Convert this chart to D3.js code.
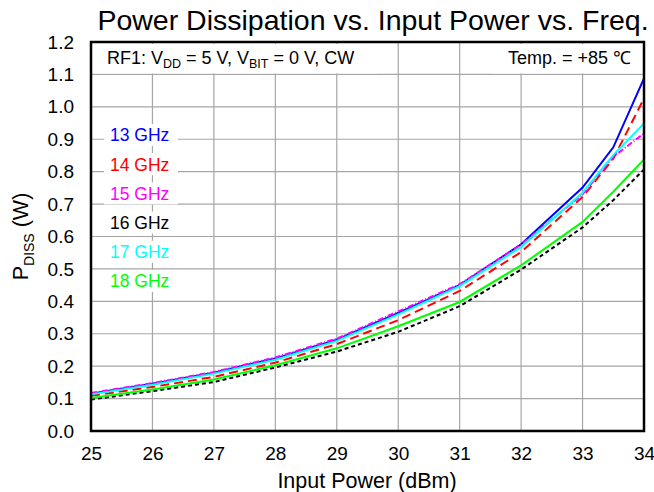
<!DOCTYPE html>
<html>
<head>
<meta charset="utf-8">
<script src="https://cdn.jsdelivr.net/npm/d3@7"></script>
<style>
  body { margin: 0; background: #fff; }
  text { font-family: Arial, "Liberation Sans", sans-serif; }
</style>
</head>
<body>
<div id="container"></div>
<script>
/* CONSTANTS AND GLOBALS */
const width = 654,
  height = 492,
  margin = { top: 42, bottom: 61, left: 91, right: 10 };

// DATA
const inputPower = [25, 26, 27, 28, 29, 30, 31, 32, 33, 33.5, 34];
const freqLabels = ["13 GHz", "14 GHz", "15 GHz", "16 GHz", "17 GHz", "18 GHz"];
const p13 = [0.115, 0.146, 0.180, 0.224, 0.282, 0.364, 0.450, 0.576, 0.751, 0.875, 1.088];
const p14 = [0.109, 0.136, 0.167, 0.211, 0.268, 0.342, 0.432, 0.552, 0.722, 0.840, 1.026];
const p15 = [0.117, 0.148, 0.182, 0.227, 0.285, 0.369, 0.453, 0.575, 0.730, 0.846, 0.918];
const p16 = [0.097, 0.123, 0.151, 0.196, 0.245, 0.306, 0.385, 0.498, 0.628, 0.712, 0.807];
const p17 = [0.113, 0.143, 0.177, 0.220, 0.278, 0.360, 0.447, 0.568, 0.735, 0.851, 0.949];
const p18 = [0.102, 0.128, 0.159, 0.203, 0.255, 0.323, 0.398, 0.511, 0.645, 0.738, 0.838];
const xTicks = [25, 26, 27, 28, 29, 30, 31, 32, 33, 34];
const yTicks = [0, 0.1, 0.2, 0.3, 0.4, 0.5, 0.6, 0.7, 0.8, 0.9, 1.0, 1.1, 1.2];

const series = [
  { name: freqLabels[0], values: p13, color: "#0000ff", dash: null },
  { name: freqLabels[1], values: p14, color: "#ff0000", dash: "9,5" },
  { name: freqLabels[2], values: p15, color: "#ff00ff", dash: "6,2,1,2" },
  { name: freqLabels[3], values: p16, color: "#000000", dash: "4,3" },
  { name: freqLabels[4], values: p17, color: "#00ffff", dash: null },
  { name: freqLabels[5], values: p18, color: "#00ff00", dash: null },
];

const svg = d3.select("#container")
  .append("svg")
  .attr("width", width)
  .attr("height", height);

const x = d3.scaleLinear()
  .domain([25, 34])
  .range([margin.left, width - margin.right]);

const y = d3.scaleLinear()
  .domain([0, 1.2])
  .range([height - margin.bottom, margin.top]);

// GRID
svg.append("g")
  .selectAll("line.vgrid")
  .data(xTicks)
  .join("line")
  .attr("x1", d => x(d)).attr("x2", d => x(d))
  .attr("y1", y(1.2)).attr("y2", y(0))
  .attr("stroke", "#a6a6a6")
  .attr("stroke-width", 1.2);

svg.append("g")
  .selectAll("line.hgrid")
  .data(yTicks)
  .join("line")
  .attr("x1", x(25)).attr("x2", x(34))
  .attr("y1", d => y(d)).attr("y2", d => y(d))
  .attr("stroke", "#a6a6a6")
  .attr("stroke-width", 1.2);

// TICK LABELS
const yAxis = d3.axisLeft(y).tickValues(yTicks).tickFormat(d3.format(".1f")).tickSize(0).tickPadding(17);
svg.append("g")
  .attr("transform", `translate(${x(25)},0)`)
  .call(yAxis)
  .call(g => g.select(".domain").remove())
  .selectAll("text")
  .attr("font-size", 19)
  .attr("fill", "#000");

const xAxis = d3.axisBottom(x).tickValues(xTicks).tickFormat(d3.format("d")).tickSize(0).tickPadding(16);
svg.append("g")
  .attr("transform", `translate(0,${y(0)})`)
  .call(xAxis)
  .call(g => g.select(".domain").remove())
  .selectAll("text")
  .attr("font-size", 19)
  .attr("fill", "#000");

// LINES
const line = d3.line()
  .x((d, i) => x(inputPower[i]))
  .y(d => y(d));

svg.append("g")
  .selectAll("path.series")
  .data(series)
  .join("path")
  .attr("class", "series")
  .attr("d", d => line(d.values))
  .attr("fill", "none")
  .attr("stroke", d => d.color)
  .attr("stroke-width", 2)
  .attr("stroke-dasharray", d => d.dash);

// FRAME
svg.append("rect")
  .attr("x", x(25)).attr("y", y(1.2))
  .attr("width", x(34) - x(25))
  .attr("height", y(0) - y(1.2))
  .attr("fill", "none")
  .attr("stroke", "#000")
  .attr("stroke-width", 2.5);

// ANNOTATION BOXES
const note = svg.append("g");
note.append("rect")
  .attr("x", x(25) + 2).attr("y", y(1.2) + 2)
  .attr("width", 285).attr("height", y(1.1) - y(1.2) - 3)
  .attr("fill", "#fff");
const rf = note.append("text")
  .attr("x", 107).attr("y", 64)
  .attr("font-size", 18);
rf.append("tspan").text("RF1: V");
rf.append("tspan").attr("font-size", 12.5).attr("dy", 4).text("DD");
rf.append("tspan").attr("dy", -4).text(" = 5 V, V");
rf.append("tspan").attr("font-size", 12.5).attr("dy", 4).text("BIT");
rf.append("tspan").attr("dy", -4).text(" = 0 V, CW");

note.append("rect")
  .attr("x", 492).attr("y", y(1.2) + 2)
  .attr("width", x(34) - 2 - 492).attr("height", y(1.1) - y(1.2) - 3)
  .attr("fill", "#fff");
note.append("text")
  .attr("x", 631).attr("y", 64)
  .attr("text-anchor", "end")
  .attr("font-size", 18)
  .text("Temp. = +85 \u2103");

// LEGEND LABELS
const legend = svg.append("g")
  .selectAll("g")
  .data(series)
  .join("g")
  .attr("transform", (d, i) => `translate(110,${135 + i * 29.2})`);

legend.append("rect")
  .attr("x", -6).attr("y", -11)
  .attr("width", 74).attr("height", 22)
  .attr("fill", "#fff");

legend.append("text")
  .attr("dy", "0.36em")
  .attr("font-size", 17.5)
  .attr("fill", d => d.color)
  .text(d => d.name);

// TITLES
svg.append("text")
  .attr("x", 373).attr("y", 30)
  .attr("text-anchor", "middle")
  .attr("font-size", 28.5)
  .text("Power Dissipation vs. Input Power vs. Freq.");

svg.append("text")
  .attr("x", 367).attr("y", 488)
  .attr("text-anchor", "middle")
  .attr("font-size", 21.5)
  .text("Input Power (dBm)");

const yl = svg.append("text")
  .attr("transform", `translate(28,${(y(0) + y(1.2)) / 2}) rotate(-90)`)
  .attr("text-anchor", "middle")
  .attr("font-size", 21.5);
yl.append("tspan").text("P");
yl.append("tspan").attr("font-size", 14).attr("dy", 6).text("DISS");
yl.append("tspan").attr("dy", -6).text(" (W)");
</script>
</body>
</html>
